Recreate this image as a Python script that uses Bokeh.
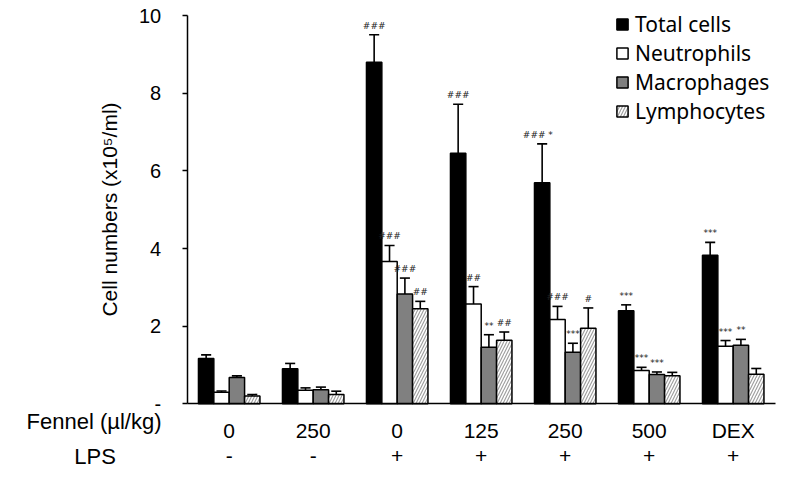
from bokeh.plotting import figure
from bokeh.models import (ColumnDataSource, Range1d, FixedTicker, LinearAxis,
                          Legend, LegendItem)
from bokeh.core.properties import value
from bokeh.embed import file_html
from bokeh.resources import INLINE

# ---------------- data ----------------
fennel = ["0", "250", "0", "125", "250", "500", "DEX"]
lps = ["-", "-", "+", "+", "+", "+", "+"]
row_captions = ["Fennel (\u00b5l/kg)", "LPS"]
series_names = ["Total cells", "Neutrophils", "Macrophages", "Lymphocytes"]

total = [1.17, 0.90, 8.80, 6.46, 5.70, 2.40, 3.83]
total_err = [0.09, 0.14, 0.71, 1.26, 1.00, 0.15, 0.33]
neut = [0.30, 0.35, 3.67, 2.57, 2.17, 0.86, 1.48]
neut_err = [0.03, 0.06, 0.41, 0.45, 0.34, 0.08, 0.15]
macro = [0.68, 0.36, 2.83, 1.46, 1.33, 0.755, 1.51]
macro_err = [0.04, 0.07, 0.41, 0.32, 0.23, 0.065, 0.15]
lymph = [0.20, 0.24, 2.45, 1.64, 1.95, 0.72, 0.76]
lymph_err = [0.04, 0.085, 0.19, 0.21, 0.52, 0.09, 0.15]

total_sig = ["", "", "###", "###", "###    *", "***", "***"]
neut_sig = ["", "", "###", "##", "###", "***", "***"]
macro_sig = ["", "", "###", "**", "***", "***", "**"]
lymph_sig = ["", "", "##", "##", "#", "", ""]

y_ticks = [0, 2, 4, 6, 8, 10]

# ---------------- figure ----------------
# The frame covers the whole canvas; the axes are pinned at x=0 / y=0 with
# fixed_location so that the row captions (left of the y axis) can be drawn.
FONT = "Liberation Sans"
W, H = 789, 476
p = figure(width=W, height=H, title=None,
           x_range=Range1d(-2.2226, 7.170), y_range=Range1d(-1.874, 10.394),
           output_backend="svg", toolbar_location=None,
           min_border=0, min_border_left=0, min_border_right=0,
           min_border_top=0, min_border_bottom=0)
p.outline_line_color = None
p.xgrid.visible = False
p.ygrid.visible = False
p.background_fill_color = "white"
p.border_fill_color = "white"

# y axis
ya = p.yaxis[0]
ya.fixed_location = 0
ya.ticker = FixedTicker(ticks=y_ticks)
ya.major_label_overrides = {0: "-"}
ya.bounds = (0, 10)
ya.axis_line_width = 1.5
ya.axis_line_color = "black"
ya.major_tick_line_width = 1.5
ya.major_tick_line_color = "black"
ya.major_tick_out = 5
ya.major_tick_in = 0
ya.minor_tick_line_color = None
ya.major_label_text_font = FONT
ya.major_label_text_font_size = "20px"
ya.major_label_text_color = "black"
ya.major_label_standoff = 21
ya.axis_label = "Cell numbers (x10\u2075/ml)"
ya.axis_label_text_font = FONT
ya.axis_label_text_font_size = "21px"
ya.axis_label_text_font_style = "normal"
ya.axis_label_text_color = "black"
ya.axis_label_standoff = 15

# x axis (Fennel doses)
group_centers = [i + 0.5 for i in range(len(fennel))]
xa = p.xaxis[0]
xa.fixed_location = 0
xa.ticker = FixedTicker(ticks=group_centers)
xa.major_label_overrides = {c: t for c, t in zip(group_centers, fennel)}
xa.bounds = (0, 7)
xa.axis_line_width = 1.5
xa.axis_line_color = "black"
xa.major_tick_line_color = None
xa.minor_tick_line_color = None
xa.major_label_text_font = FONT
xa.major_label_text_font_size = "21px"
xa.major_label_text_color = "black"
xa.major_label_standoff = 9

# second row (LPS)
xa2 = LinearAxis(ticker=FixedTicker(ticks=group_centers), fixed_location=0,
                 major_label_overrides={c: t for c, t in zip(group_centers, lps)})
xa2.axis_line_color = None
xa2.major_tick_line_color = None
xa2.minor_tick_line_color = None
xa2.major_label_text_font = FONT
xa2.major_label_text_font_size = "21px"
xa2.major_label_text_color = "black"
xa2.major_label_standoff = 39
p.add_layout(xa2, "below")

# row captions (left of the y axis, level with the two label rows)
cap_src = ColumnDataSource(dict(x=[-0.306, -0.85], y=[-0.46, -1.36], text=row_captions))
p.text(x="x", y="y", text="text", source=cap_src, text_align="right",
       text_baseline="middle", text_font=value(FONT), text_font_size="22px",
       text_color="black")

# ---------------- bars ----------------
bw = 0.183
offsets = [-1.5 * bw, -0.5 * bw, 0.5 * bw, 1.5 * bw]
styles = [
    dict(fill_color="black", line_color="black"),
    dict(fill_color="white", line_color="black"),
    dict(fill_color="#808080", line_color="black"),
    dict(fill_color="white", line_color="black", hatch_pattern="/",
         hatch_color="#a0a0a0", hatch_weight=1.2, hatch_scale=6),
]
vals = [total, neut, macro, lymph]
errs = [total_err, neut_err, macro_err, lymph_err]
sigs = [total_sig, neut_sig, macro_sig, lymph_sig]

renderers = []
cap = 0.06
for k in range(4):
    xs = [c + offsets[k] for c in group_centers]
    tops = [v + e for v, e in zip(vals[k], errs[k])]
    src = ColumnDataSource(dict(x=xs, top=vals[k], etop=tops,
                                x0=[x - cap for x in xs], x1=[x + cap for x in xs],
                                sig=sigs[k]))
    p.segment(x0="x", y0="top", x1="x", y1="etop", source=src,
              line_color="black", line_width=1.6)
    p.segment(x0="x0", y0="etop", x1="x1", y1="etop", source=src,
              line_color="black", line_width=1.6)
    r = p.vbar(x="x", top="top", bottom=0, width=bw, source=src,
               line_width=1.5, **styles[k])
    renderers.append(r)
    p.text(x="x", y="etop", text="sig", source=src, text_align="center",
           text_baseline="alphabetic", y_offset=-9,
           text_font=value("DejaVu Sans"), text_font_size="9px",
           text_font_style="italic", text_color="#222222")

legend = Legend(items=[LegendItem(label=n, renderers=[r])
                       for n, r in zip(series_names, renderers)],
                location=(615, 351))
legend.background_fill_alpha = 0
legend.border_line_alpha = 0
legend.padding = 0
legend.margin = 0
legend.spacing = 1
legend.glyph_width = 14
legend.glyph_height = 14
legend.label_height = 24
legend.label_standoff = 6
legend.label_text_font = "Noto Sans"
legend.label_text_font_size = "21px"
legend.label_text_color = "black"
legend.label_text_baseline = "middle"
p.add_layout(legend, "center")

open("out.html", "w").write(file_html(p, INLINE))
